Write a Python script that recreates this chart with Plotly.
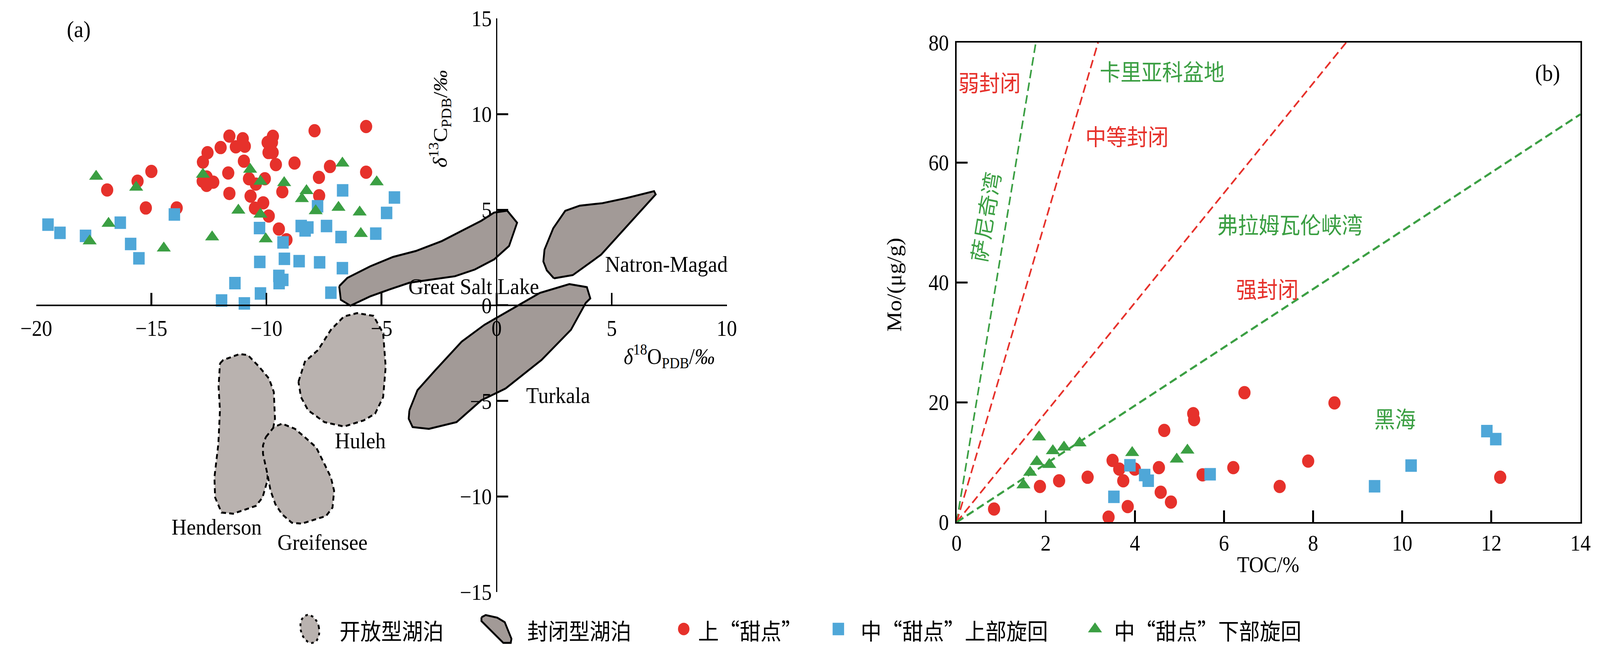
import numpy as np
import plotly.graph_objects as go

W, H = 4458, 1685
SERIF = "Liberation Serif, Times New Roman, serif"
CJK = "Noto Sans CJK SC"
RED = "#E6312B"
BLUE = "#4FA7D8"
GREEN = "#3B9F43"
CLOSED_FILL = "#A29A97"
OPEN_FILL = "#B9B2AF"

# ---------------- panel (a): d18O / d13C ----------------
upper_d18O = [-16.92, -15.6, -15.0, -15.24, -13.9, -12.56, -11.99, -12.76, -12.6, -12.77, -12.6, -12.31,
              -11.61, -11.03, -11.33, -10.94, -9.72, -9.95, -9.76, -9.91, -9.73, -7.91, -5.67, -10.98,
              -9.59, -8.78, -7.24, -11.66, -10.76, -10.07, -10.46, -7.72, -5.67, -11.61, -10.69, -9.31,
              -7.71, -10.14, -10.5, -9.90, -9.46, -9.13]
upper_d13C = [6.03, 6.49, 7.0, 5.09, 5.09, 7.98, 8.25, 7.49, 6.71, 6.49, 6.27, 6.44,
              8.85, 8.71, 8.29, 8.32, 8.84, 8.52, 8.52, 7.99, 7.99, 9.13, 9.35, 7.54,
              7.36, 7.44, 7.26, 6.92, 6.62, 6.62, 6.34, 6.69, 6.96, 5.85, 5.71, 5.94,
              5.73, 5.36, 5.08, 4.67, 3.99, 3.43]

midup_d18O = [-19.49, -18.97, -17.86, -16.35, -15.90, -15.54, -14.0, -11.95,
              -6.69, -4.44, -4.78, -7.78, -10.3, -8.49, -8.2, -8.32, -7.39, -6.76, -5.25, -9.28,
              -10.29, -9.22, -8.58, -7.69, -6.70, -11.37, -9.46, -9.29, -9.45, -10.26, -7.20, -10.96]
midup_d13C = [4.22, 3.79, 3.63, 4.32, 3.21, 2.46, 4.75, 0.25,
              6.01, 5.64, 4.83, 5.18, 4.04, 4.15, 4.07, 3.92, 4.15, 3.57, 3.75, 3.29,
              2.27, 2.43, 2.31, 2.25, 1.94, 1.16, 1.54, 1.33, 1.16, 0.62, 0.66, 0.10]

midlow_d18O = [-17.4, -15.66, -12.76, -16.86, -17.68, -14.46, -12.36,
               -10.71, -10.26, -9.23, -8.26, -8.46, -6.70, -5.21, -11.22, -10.26, -7.86, -6.87,
               -5.95, -10.03, -5.90]
midlow_d13C = [6.74, 6.17, 6.85, 4.28, 3.36, 2.99, 3.57,
               7.11, 6.48, 6.41, 5.99, 5.57, 7.43, 6.45, 4.97, 4.76, 4.94, 5.12,
               4.87, 3.47, 3.75]

# closed lakes (outlines)
gsl_x = [-6.84, -6.49, -5.49, -4.50, -3.51, -2.38, -1.38, -0.67, -0.11, 0.46, 0.89, 0.54, -0.11,
         -0.95, -1.81, -2.81, -3.79, -4.65, -5.49, -6.35, -6.77]
gsl_y = [1.0, 1.43, 2.04, 2.53, 2.84, 3.36, 3.98, 4.42, 4.85, 4.95, 4.32, 3.10, 2.40,
         1.87, 1.52, 1.36, 1.18, 0.83, 0.47, -0.02, 0.29]
natron_x = [2.49, 3.31, 4.54, 6.91, 6.84, 5.61, 4.59, 3.61, 2.98, 2.46, 2.08, 2.03, 2.18]
natron_y = [1.41, 1.58, 2.65, 5.80, 5.97, 5.60, 5.34, 5.21, 4.94, 4.03, 2.91, 2.29, 1.83]
turkala_x = [-3.79, -3.44, -2.66, -1.52, -0.53, 0.75, 1.88, 3.16, 3.92, 4.07, 3.87, 3.23, 1.95,
             0.39, -0.67, -1.74, -2.94, -3.65, -3.82]
turkala_y = [-5.49, -4.44, -3.39, -1.90, -1.02, -0.14, 0.65, 1.11, 0.95, 0.36, 0.12, -1.28, -2.86,
             -4.35, -4.97, -6.11, -6.46, -6.37, -5.93]
# open lakes (outlines)
huleh_x = [-8.61, -8.33, -7.76, -7.20, -6.63, -6.06, -5.35, -4.93, -4.82, -4.93, -5.28, -5.78,
           -6.63, -7.48, -8.19, -8.50]
huleh_y = [-4.00, -2.95, -2.34, -1.28, -0.58, -0.41, -0.55, -1.46, -3.21, -4.80, -5.67, -6.02,
           -6.34, -6.11, -5.49, -4.80]
henderson_x = [-12.02, -11.88, -11.17, -10.81, -10.32, -9.89, -9.68, -9.63, -9.89, -9.96, -10.17,
               -10.46, -11.45, -11.95, -12.23, -12.26, -12.09, -12.02, -12.08]
henderson_y = [-3.04, -2.86, -2.55, -2.60, -3.21, -3.83, -4.53, -5.93, -7.60, -9.17, -10.05,
               -10.49, -10.90, -10.84, -10.05, -9.00, -7.25, -5.49, -4.26]
greif_x = [-10.03, -9.68, -9.32, -8.76, -8.33, -7.84, -7.48, -7.20, -7.06, -7.13, -7.41, -8.47,
           -8.90, -9.32, -9.61, -9.82, -9.96, -10.15, -10.15]
greif_y = [-6.90, -6.37, -6.19, -6.46, -6.90, -7.43, -8.30, -9.00, -9.70, -10.58, -11.02, -11.42,
           -11.37, -10.93, -10.41, -9.70, -8.82, -7.77, -7.33]

closed_lakes = [(gsl_x, gsl_y), (natron_x, natron_y), (turkala_x, turkala_y)]
open_lakes = [(huleh_x, huleh_y), (henderson_x, henderson_y), (greif_x, greif_y)]

lake_names = ["Great Salt Lake", "Natron-Magad", "Turkala", "Huleh", "Henderson", "Greifensee"]
lake_label_x = [-1.0, 4.69, 2.67, -5.92, -12.17, -7.57]
lake_label_y = [0.98, 2.16, -4.71, -7.09, -11.6, -12.38]
lake_label_anchor = ["center", "left", "center", "center", "center", "center"]

a_xticks = [-20, -15, -10, -5, 0, 5, 10]
a_yticks = [-15, -10, -5, 0, 5, 10, 15]

# ---------------- panel (b): TOC / Mo ----------------
upper_toc = [0.84, 1.87, 2.30, 2.94, 3.41, 3.50, 3.65, 3.74, 3.84, 4.0, 4.54, 4.58, 4.66, 4.81,
             5.31, 5.33, 5.52, 6.21, 6.46, 7.25, 7.89, 8.48, 12.2]
upper_mo = [2.2, 5.96, 6.9, 7.5, 0.84, 10.3, 8.86, 6.9, 2.6, 8.86, 9.1, 5.0, 15.3, 3.36,
            18.1, 17.1, 7.9, 9.1, 21.6, 5.96, 10.2, 19.9, 7.5]
midup_toc = [3.53, 3.89, 4.22, 4.30, 5.69, 9.38, 10.2, 11.9, 12.1]
midup_mo = [4.24, 9.5, 7.87, 6.92, 8.0, 6.0, 9.45, 15.2, 13.85]
midlow_toc = [1.50, 1.65, 1.80, 1.85, 2.08, 2.16, 2.41, 2.76, 3.94, 4.94, 5.18]
midlow_mo = [6.2, 8.3, 10.1, 14.2, 9.6, 11.9, 12.5, 13.2, 11.6, 10.5, 12.0]

# reference lines Mo/TOC (slopes) through the origin
ref_slopes = [45.0, 25.2, 9.15, 4.86]
ref_colors = [GREEN, RED, RED, GREEN]
ref_widths = [4.5, 4.5, 4.5, 5.5]

b_labels = ["弱封闭", "卡里亚科盆地", "中等封闭", "萨尼奇湾", "弗拉姆瓦伦峡湾", "强封闭", "黑海"]
b_label_x = [0.74, 4.61, 3.82, 0.63, 7.48, 6.97, 9.84]
b_label_y = [73.5, 75.3, 64.5, 50.9, 49.8, 39.0, 17.4]
b_label_color = [RED, GREEN, RED, GREEN, GREEN, RED, GREEN]
b_label_angle = [0, 0, 0, -80, 0, 0, 0]

legend_names = ["开放型湖泊", "封闭型湖泊", "上“甜点”", "中“甜点”上部旋回", "中“甜点”下部旋回"]

fig = go.Figure()

# ---- lakes
for xs, ys in closed_lakes:
    fig.add_trace(go.Scatter(x=xs + xs[:1], y=ys + ys[:1], mode="lines", fill="toself",
                             fillcolor=CLOSED_FILL, line=dict(color="black", width=5),
                             hoverinfo="skip", showlegend=False, xaxis="x", yaxis="y"))
for xs, ys in open_lakes:
    fig.add_trace(go.Scatter(x=xs + xs[:1], y=ys + ys[:1], mode="lines", fill="toself",
                             fillcolor=OPEN_FILL, line=dict(color="black", width=5, dash="13px,9px"),
                             hoverinfo="skip", showlegend=False, xaxis="x", yaxis="y"))

MS = 34
# ---- panel (a) points
fig.add_trace(go.Scatter(x=upper_d18O, y=upper_d13C, mode="markers", showlegend=False,
                         marker=dict(symbol="circle", size=MS, color=RED, line=dict(width=0)),
                         xaxis="x", yaxis="y"))
fig.add_trace(go.Scatter(x=midup_d18O, y=midup_d13C, mode="markers", showlegend=False,
                         marker=dict(symbol="square", size=MS - 2, color=BLUE, line=dict(width=0)),
                         xaxis="x", yaxis="y"))
fig.add_trace(go.Scatter(x=midlow_d18O, y=midlow_d13C, mode="markers", showlegend=False,
                         marker=dict(symbol="triangle-up", size=MS, color=GREEN, line=dict(width=0)),
                         xaxis="x", yaxis="y"))

# ---- panel (b) reference lines
for k, c, w in zip(ref_slopes, ref_colors, ref_widths):
    xe = min(14.0, 80.0 / k)
    fig.add_trace(go.Scatter(x=[0, xe], y=[0, k * xe], mode="lines", showlegend=False,
                             line=dict(color=c, width=w, dash="22px,11px"), hoverinfo="skip",
                             xaxis="x2", yaxis="y2"))

# ---- panel (b) points
fig.add_trace(go.Scatter(x=upper_toc, y=upper_mo, mode="markers", showlegend=False, cliponaxis=False,
                         marker=dict(symbol="circle", size=MS, color=RED, line=dict(width=0)),
                         xaxis="x2", yaxis="y2"))
fig.add_trace(go.Scatter(x=midup_toc, y=midup_mo, mode="markers", showlegend=False, cliponaxis=False,
                         marker=dict(symbol="square", size=MS - 2, color=BLUE, line=dict(width=0)),
                         xaxis="x2", yaxis="y2"))
fig.add_trace(go.Scatter(x=midlow_toc, y=midlow_mo, mode="markers", showlegend=False, cliponaxis=False,
                         marker=dict(symbol="triangle-up", size=MS, color=GREEN, line=dict(width=0)),
                         xaxis="x2", yaxis="y2"))

# ---- custom legend (pixel-coordinate helper axes x3/y3)
LY = 1641
t = np.linspace(0, 2 * np.pi, 80)
phi = np.deg2rad(15)
ex = 832 + 26 * np.cos(t) * np.cos(phi) + 38 * np.sin(t) * np.sin(phi)
ey = LY - 26 * np.cos(t) * np.sin(phi) + 38 * np.sin(t) * np.cos(phi)
fig.add_trace(go.Scatter(x=ex, y=ey, mode="lines", fill="toself", fillcolor=OPEN_FILL,
                         line=dict(color="black", width=5, dash="7px,9px"), hoverinfo="skip",
                         showlegend=False, xaxis="x3", yaxis="y3"))
px_ = [1318, 1330, 1363, 1384, 1403, 1401, 1380, 1318, 1318]
py_ = [1610, 1604, 1611, 1623, 1667, 1678, 1678, 1620, 1610]
fig.add_trace(go.Scatter(x=px_, y=py_, mode="lines", fill="toself", fillcolor=CLOSED_FILL,
                         line=dict(color="black", width=5), hoverinfo="skip",
                         showlegend=False, xaxis="x3", yaxis="y3"))
fig.add_trace(go.Scatter(x=[1891], y=[LY], mode="markers", showlegend=False,
                         marker=dict(symbol="circle", size=32, color=RED), xaxis="x3", yaxis="y3"))
fig.add_trace(go.Scatter(x=[2329], y=[LY], mode="markers", showlegend=False,
                         marker=dict(symbol="square", size=32, color=BLUE), xaxis="x3", yaxis="y3"))
fig.add_trace(go.Scatter(x=[3056], y=[LY], mode="markers", showlegend=False,
                         marker=dict(symbol="triangle-up", size=34, color=GREEN), xaxis="x3", yaxis="y3"))
legend_text_x = [914, 1446, 1930, 2390, 3108]

annotations = []


def ann(text, x, y, xref, yref, size, color="black", family=SERIF, angle=0,
        xanchor="center", yanchor="middle"):
    annotations.append(dict(text=text, x=x, y=y, xref=xref, yref=yref, showarrow=False,
                            font=dict(family=family, size=size, color=color), textangle=angle,
                            xanchor=xanchor, yanchor=yanchor))


for name, tx in zip(legend_names, legend_text_x):
    ann(name, tx, LY + 2, "x3", "y3", 58, family=CJK, xanchor="left")

for name, lx, ly, an in zip(lake_names, lake_label_x, lake_label_y, lake_label_anchor):
    ann(name, lx, ly, "x", "y", 58, xanchor=an)

ann("(a)", 177 / W, 1 - 46 / H, "paper", "paper", 60)
ann("<i>δ</i><sup>18</sup>O<sub>PDB</sub>/<i>‰</i>", 7.5, -2.65, "x", "y", 56)
ann("<i>δ</i><sup>13</sup>C<sub>PDB</sub>/<i>‰</i>", -2.47, 9.76, "x", "y", 56, angle=-90)

for txt, bx, by, bc, ba in zip(b_labels, b_label_x, b_label_y, b_label_color, b_label_angle):
    ann(txt, bx, by, "x2", "y2", 58, color=bc, family=CJK, angle=ba)
ann("(b)", 13.26, 74.9, "x2", "y2", 60)
ann("Mo/(μg/g)", 2487 / W, 1 - 725 / H, "paper", "paper", 58, angle=-90)
ann("TOC/%", 3547 / W, 1 - 1470 / H, "paper", "paper", 56)

tickfont = dict(family=SERIF, size=57, color="black")
common = dict(showline=True, linecolor="black", linewidth=4, ticks="inside", ticklen=30,
              tickwidth=5, tickcolor="black", showgrid=False, zeroline=False, tickfont=tickfont,
              fixedrange=True)

fig.update_layout(
    width=W, height=H, margin=dict(l=0, r=0, t=0, b=0),
    paper_bgcolor="white", plot_bgcolor="rgba(0,0,0,0)",
    showlegend=False,
    xaxis=dict(domain=[57 / W, 2013 / W], range=[-20, 10], anchor="free", position=1 - 780 / H,
               tickvals=a_xticks, ticklabelstandoff=8, **common),
    yaxis=dict(domain=[1 - 1543 / H, 1 - 17 / H], range=[-15, 15], anchor="free", position=1361 / W,
               tickvals=a_yticks, ticklabelstandoff=0, **common),
    xaxis2=dict(domain=[2664 / W, 4431 / W], range=[0, 14], anchor="y2", tickvals=list(range(0, 15, 2)),
                mirror=True, ticklabelstandoff=0, **common),
    yaxis2=dict(domain=[1 - 1357 / H, 1 - 81 / H], range=[0, 80], anchor="x2", tickvals=[0, 20, 40, 60, 80],
                mirror=True, ticklabelstandoff=6, **common),
    xaxis3=dict(domain=[0, 1], range=[0, W], anchor="y3", visible=False, fixedrange=True),
    yaxis3=dict(domain=[0, 135 / H], range=[H, H - 135], anchor="x3", visible=False, fixedrange=True),
    annotations=annotations,
)

# map the fixed 4458x1685 design onto whatever viewport the page gets (no margins, no scrollbars)
post = """
var gd = document.getElementById('{plot_id}');
document.documentElement.style.margin = '0';
document.documentElement.style.overflow = 'hidden';
document.body.style.margin = '0';
document.body.style.overflow = 'hidden';
var sx = window.innerWidth / %d, sy = window.innerHeight / %d;
if (sx > 0 && sy > 0 && (Math.abs(sx - 1) > 0.002 || Math.abs(sy - 1) > 0.002)) {
    gd.style.transformOrigin = '0 0';
    gd.style.transform = 'scale(' + sx + ',' + sy + ')';
}
""" % (W, H)

fig.write_html("out.html", post_script=post, config={"displayModeBar": False})
